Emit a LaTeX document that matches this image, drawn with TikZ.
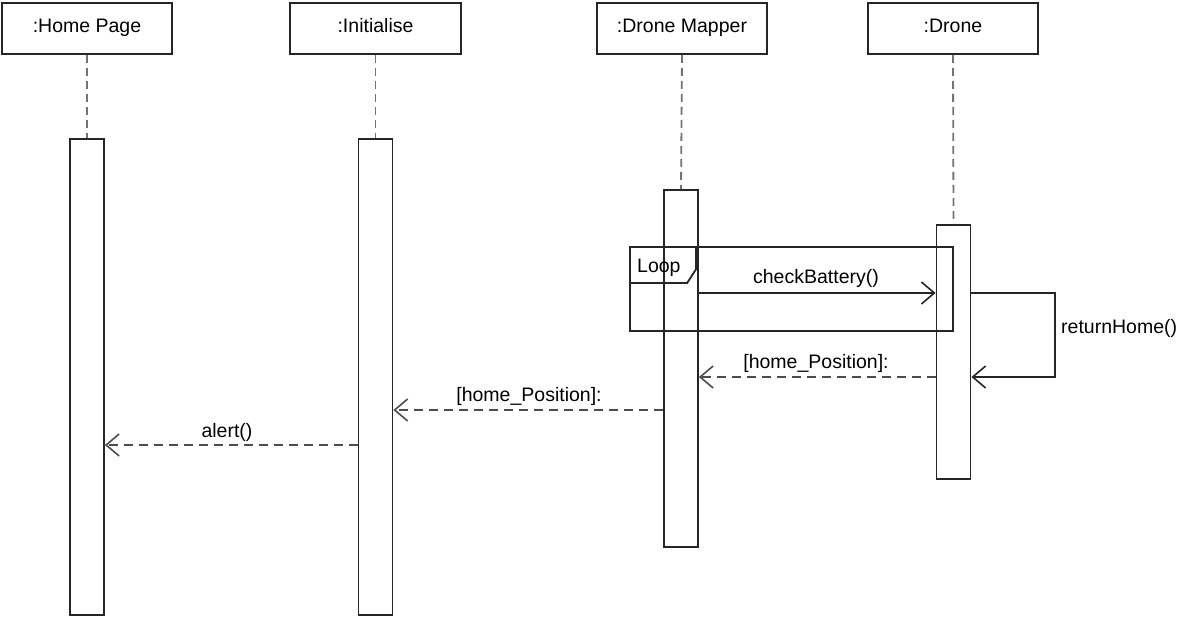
\documentclass[tikz,border=0pt]{standalone}
\usepackage{fontspec}
\setmainfont{Liberation Sans}
\usetikzlibrary{arrows.meta}
\begin{document}
\begin{tikzpicture}[x=1pt,y=-1pt,
  lbl/.style={font=\fontsize{19.5}{21}\selectfont, inner sep=0pt},
  head/.style={draw=black!85, line width=1.8pt, minimum height=51pt, inner sep=0pt, text height=13pt, text depth=5pt, font=\fontsize{19.5}{21}\selectfont},
  act/.style={draw=black!85, line width=1.8pt, fill=white, inner sep=0pt, minimum width=34pt},
  life/.style={draw=black!55, line width=1.8pt, dash pattern=on 8pt off 5pt},
  msg/.style={draw=black!85, line width=1.8pt, -{Straight Barb[length=13pt,width=22pt,line width=1.6pt]}},
  ret/.style={msg, draw=black!70, dash pattern=on 9pt off 6pt},
  frame/.style={draw=black!85, line width=1.8pt}
]
\useasboundingbox (0,0) rectangle (1181,617);
% headers
\node[head, minimum width=170pt] (hp) at (87,28.5) {:Home Page};
\node[head, minimum width=171pt] (in) at (375.5,28.5) {:Initialise};
\node[head, minimum width=170pt] (dm) at (682,28.5) {:Drone Mapper};
\node[head, minimum width=170pt] (dr) at (953,28.5) {:Drone};
% activations
\node[act, minimum height=476pt] (hpA) at (87,377) {};
\node[act, minimum height=476pt] (inA) at (375.5,377) {};
\node[act, minimum height=357pt] (dmA) at (681,368.5) {};
\node[act, minimum height=254pt] (drA) at (953.5,352) {};
% lifelines
\draw[life] (hp.south) -- (hpA.north);
\draw[life] (in.south) -- (inA.north);
\draw[life] (dm.south) -- (dmA.north);
\draw[life] (dr.south) -- (drA.north);
% loop frame
\node[frame, minimum width=323pt, minimum height=84pt, inner sep=0pt] (loop) at (791.5,289) {};
\draw[frame] (loop.north west) ++(0,37) -- ++(58,0) -- ++(9,-14) -- ++(0,-23);
\node[lbl, anchor=west] (looplbl) at (637,268) {Loop};
% message end points
\coordinate (cbS) at (dmA.east |- 0,293);
\coordinate (cbE) at (drA.west |- 0,293);
\coordinate (rhS) at (drA.east |- 0,293);
\coordinate (rhE) at (drA.east |- 0,377);
\coordinate (hp1S) at (drA.west |- 0,377);
\coordinate (hp1E) at (dmA.east |- 0,377);
\coordinate (hp2S) at (dmA.west |- 0,410);
\coordinate (hp2E) at (inA.east |- 0,410);
\coordinate (alS) at (inA.west |- 0,445);
\coordinate (alE) at (hpA.east |- 0,445);
% messages
\draw[msg] (cbS) -- (cbE);
\node[lbl] (cbL) at (816,278) {checkBattery()};
\draw[msg] (rhS) -- (1055,293) -- (1055,377) -- (rhE);
\node[lbl, anchor=west] (rhL) at (1061,328) {returnHome()};
\draw[ret] (hp1S) -- (hp1E);
\node[lbl] (hp1L) at (816,363) {[home\_Position]:};
\draw[ret] (hp2S) -- (hp2E);
\node[lbl] (hp2L) at (529,396) {[home\_Position]:};
\draw[ret] (alS) -- (alE);
\node[lbl] (alL) at (227,432) {alert()};
\end{tikzpicture}
\end{document}
